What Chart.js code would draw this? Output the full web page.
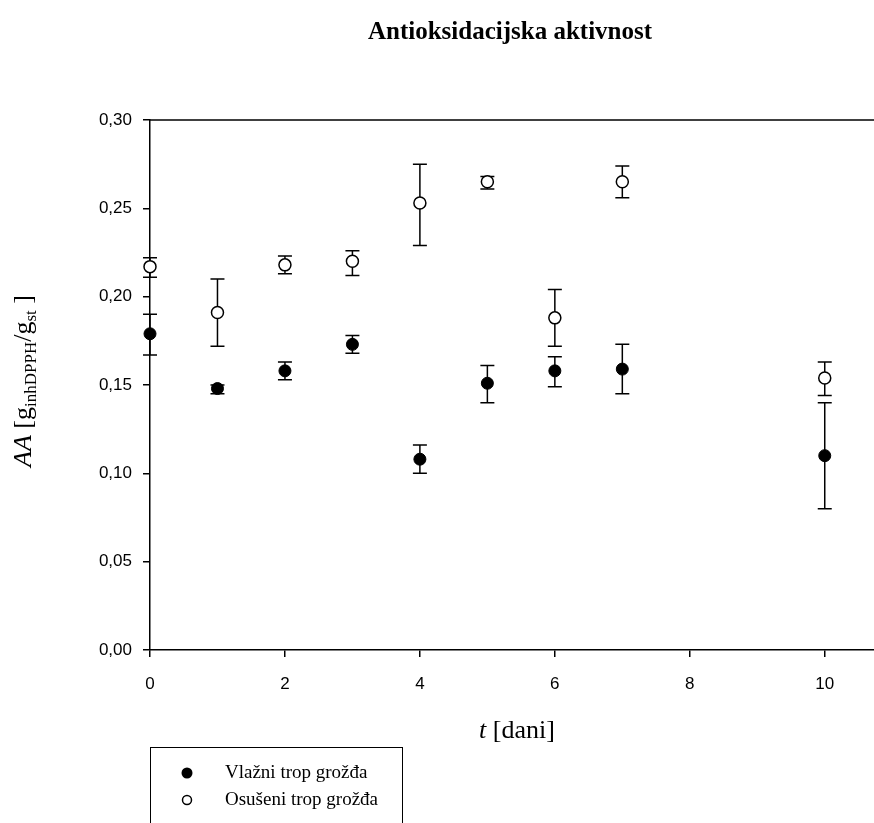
<!DOCTYPE html>
<html>
<head>
<meta charset="utf-8">
<script src="https://cdn.jsdelivr.net/npm/chart.js@4/dist/chart.umd.min.js"></script>
<style>
  html, body { margin: 0; padding: 0; background: #fff; }
  #wrap { width: 874px; height: 823px; position: relative; }
</style>
</head>
<body>
<div id="wrap"><canvas id="aaChart" width="874" height="823"></canvas></div>
<script>
// Antioksidacijska aktivnost - scatter with error bars

const days = [0, 1, 2, 3, 4, 5, 6, 7, 10];

// Vlažni trop grožđa (filled)
const wetMean = [0.179, 0.148, 0.158, 0.173, 0.108, 0.151, 0.158, 0.159, 0.110];
const wetLow  = [0.167, 0.145, 0.153, 0.168, 0.100, 0.140, 0.149, 0.145, 0.080];
const wetHigh = [0.190, 0.150, 0.163, 0.178, 0.116, 0.161, 0.166, 0.173, 0.140];

// Osušeni trop grožđa (open)
const dryMean = [0.217, 0.191, 0.218, 0.220, 0.253, 0.265, 0.188, 0.265, 0.154];
const dryLow  = [0.211, 0.172, 0.213, 0.212, 0.229, 0.261, 0.172, 0.256, 0.144];
const dryHigh = [0.222, 0.210, 0.223, 0.226, 0.275, 0.268, 0.204, 0.274, 0.163];

const xTicks = [0, 2, 4, 6, 8, 10];
const yTicks = [0, 0.05, 0.10, 0.15, 0.20, 0.25, 0.30];

const seriesNames = ['Vlažni trop grožđa', 'Osušeni trop grožđa'];

function toPoints(means, lows, highs) {
    return days.map((d, i) => ({ x: d, y: means[i], lo: lows[i], hi: highs[i] }));
}

// Error bars behind markers, frame, titles and legend box
const decorPlugin = {
    id: 'decor',
    beforeDatasetsDraw(chart) {
        const ctx = chart.ctx;
        const xs = chart.scales.x, ys = chart.scales.y;
        ctx.save();
        ctx.strokeStyle = '#000';
        ctx.lineWidth = 1.5;
        chart.data.datasets.forEach(ds => {
            ds.data.forEach(p => {
                const px = xs.getPixelForValue(p.x);
                const yl = ys.getPixelForValue(p.lo);
                const yh = ys.getPixelForValue(p.hi);
                ctx.beginPath();
                ctx.moveTo(px, yl); ctx.lineTo(px, yh);
                ctx.moveTo(px - 7, yl); ctx.lineTo(px + 7, yl);
                ctx.moveTo(px - 7, yh); ctx.lineTo(px + 7, yh);
                ctx.stroke();
            });
        });
        ctx.restore();
    },
    afterDraw(chart) {
        const ctx = chart.ctx;
        const a = chart.chartArea;
        ctx.save();
        ctx.strokeStyle = '#000';
        ctx.lineWidth = 1.5;
        // top frame line
        ctx.beginPath();
        ctx.moveTo(a.left, a.top); ctx.lineTo(a.right, a.top);
        ctx.stroke();

        const cx = 512;
        ctx.fillStyle = '#000';
        ctx.textBaseline = 'alphabetic';

        // title
        ctx.font = 'bold 25px "Liberation Serif", "Times New Roman", serif';
        ctx.textAlign = 'center';
        ctx.fillText('Antioksidacijska aktivnost', 510, 39);

        // x axis title: t [dani]
        const xParts = [
            { t: 't', f: 'italic 26px "Liberation Serif", serif' },
            { t: ' [dani]', f: '26px "Liberation Serif", serif' }
        ];
        drawParts(ctx, xParts, 517, 738);

        // y axis title rotated
        ctx.save();
        ctx.translate(31, 381);
        ctx.rotate(-Math.PI / 2);
        const yParts = [
            { t: 'AA', f: 'italic 26px "Liberation Serif", serif' },
            { t: ' [g', f: '26px "Liberation Serif", serif' },
            { t: 'inhDPPH', f: '17px "Liberation Serif", serif', dy: 5 },
            { t: '/g', f: '26px "Liberation Serif", serif' },
            { t: 'st', f: '17px "Liberation Serif", serif', dy: 5 },
            { t: ' ]', f: '26px "Liberation Serif", serif' }
        ];
        drawParts(ctx, yParts, 0, 0);
        ctx.restore();

        // legend box
        ctx.lineWidth = 1;
        ctx.strokeRect(150.5, 747.5, 252, 90);
        ctx.font = '19px "Liberation Serif", serif';
        ctx.textAlign = 'left';
        ctx.textBaseline = 'middle';
        const rows = [773, 800];
        rows.forEach((ry, i) => {
            ctx.beginPath();
            if (i === 0) {
                ctx.arc(187, ry, 5.5, 0, Math.PI * 2);
                ctx.fill();
            } else {
                ctx.arc(187, ry, 4.5, 0, Math.PI * 2);
                ctx.lineWidth = 1.5;
                ctx.stroke();
            }
            ctx.fillText(seriesNames[i], 225, ry);
        });
        ctx.restore();
    }
};

function drawParts(ctx, parts, cx, y) {
    let total = 0;
    parts.forEach(p => { ctx.font = p.f; total += ctx.measureText(p.t).width; });
    let x = cx - total / 2;
    ctx.textAlign = 'left';
    parts.forEach(p => {
        ctx.font = p.f;
        ctx.fillText(p.t, x, y + (p.dy || 0));
        x += ctx.measureText(p.t).width;
    });
}

const ctx = document.getElementById('aaChart').getContext('2d');
new Chart(ctx, {
    type: 'scatter',
    data: {
        datasets: [
            {
                label: seriesNames[0],
                data: toPoints(wetMean, wetLow, wetHigh),
                pointRadius: 6,
                pointBackgroundColor: '#000',
                pointBorderColor: '#000',
                pointBorderWidth: 1,
                clip: false
            },
            {
                label: seriesNames[1],
                data: toPoints(dryMean, dryLow, dryHigh),
                pointRadius: 6,
                pointBackgroundColor: '#fff',
                pointBorderColor: '#000',
                pointBorderWidth: 1.5,
                clip: false
            }
        ]
    },
    options: {
        responsive: false,
        animation: false,
        layout: { autoPadding: false, padding: { top: 120, right: 0, left: 0, bottom: 0 } },
        plugins: {
            legend: { display: false },
            tooltip: { enabled: false }
        },
        scales: {
            x: {
                type: 'linear',
                min: 0,
                max: 10.73,
                afterBuildTicks: s => { s.ticks = xTicks.map(v => ({ value: v })); },
                afterFit: s => { s.height = 173; s.paddingRight = 0; s.paddingLeft = 0; },
                border: { display: true, color: '#000', width: 1.5 },
                grid: { drawOnChartArea: false, color: '#000', lineWidth: 1.5, tickLength: 7 },
                ticks: {
                    color: '#000',
                    padding: 17,
                    font: { family: '"Liberation Sans", Arial, sans-serif', size: 17 },
                    callback: v => String(v)
                }
            },
            y: {
                min: 0,
                max: 0.30,
                afterBuildTicks: s => { s.ticks = yTicks.map(v => ({ value: v })); },
                afterFit: s => { s.width = 150; },
                border: { display: true, color: '#000', width: 1.5 },
                grid: { drawOnChartArea: false, color: '#000', lineWidth: 1.5, tickLength: 7 },
                ticks: {
                    color: '#000',
                    padding: 11,
                    font: { family: '"Liberation Sans", Arial, sans-serif', size: 17 },
                    callback: v => v.toFixed(2).replace('.', ',')
                }
            }
        }
    },
    plugins: [decorPlugin]
});
</script>
</body>
</html>
